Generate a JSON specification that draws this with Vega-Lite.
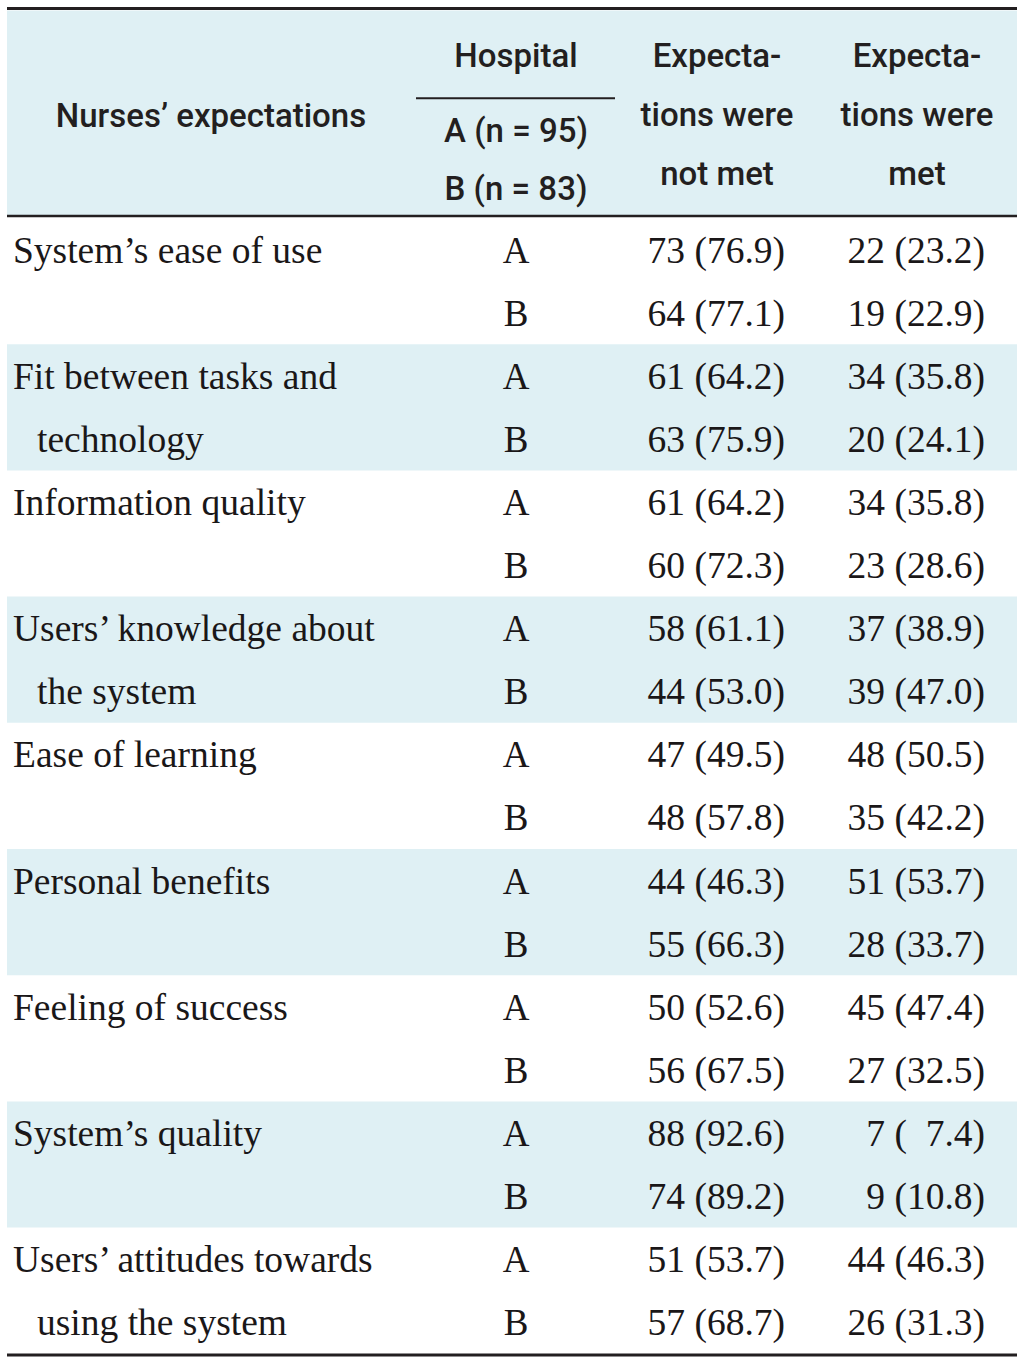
{
  "$schema": "https://vega.github.io/schema/vega-lite/v6.json",
  "width": 1022,
  "height": 1363,
  "padding": 0,
  "autosize": {"type": "fit", "contains": "padding"},
  "background": "white",
  "config": {"view": {"stroke": null}, "text": {"color": "#231f20"}},
  "data": {"values": [
    {"item": "System’s ease of use", "line": "System’s ease of use", "hospital": "A", "notMetN": 73, "notMetPct": 76.9, "metN": 22, "metPct": 23.2},
    {"item": "System’s ease of use", "line": "", "hospital": "B", "notMetN": 64, "notMetPct": 77.1, "metN": 19, "metPct": 22.9},
    {"item": "Fit between tasks and technology", "line": "Fit between tasks and", "hospital": "A", "notMetN": 61, "notMetPct": 64.2, "metN": 34, "metPct": 35.8},
    {"item": "Fit between tasks and technology", "line": "technology", "hospital": "B", "notMetN": 63, "notMetPct": 75.9, "metN": 20, "metPct": 24.1},
    {"item": "Information quality", "line": "Information quality", "hospital": "A", "notMetN": 61, "notMetPct": 64.2, "metN": 34, "metPct": 35.8},
    {"item": "Information quality", "line": "", "hospital": "B", "notMetN": 60, "notMetPct": 72.3, "metN": 23, "metPct": 28.6},
    {"item": "Users’ knowledge about the system", "line": "Users’ knowledge about", "hospital": "A", "notMetN": 58, "notMetPct": 61.1, "metN": 37, "metPct": 38.9},
    {"item": "Users’ knowledge about the system", "line": "the system", "hospital": "B", "notMetN": 44, "notMetPct": 53.0, "metN": 39, "metPct": 47.0},
    {"item": "Ease of learning", "line": "Ease of learning", "hospital": "A", "notMetN": 47, "notMetPct": 49.5, "metN": 48, "metPct": 50.5},
    {"item": "Ease of learning", "line": "", "hospital": "B", "notMetN": 48, "notMetPct": 57.8, "metN": 35, "metPct": 42.2},
    {"item": "Personal benefits", "line": "Personal benefits", "hospital": "A", "notMetN": 44, "notMetPct": 46.3, "metN": 51, "metPct": 53.7},
    {"item": "Personal benefits", "line": "", "hospital": "B", "notMetN": 55, "notMetPct": 66.3, "metN": 28, "metPct": 33.7},
    {"item": "Feeling of success", "line": "Feeling of success", "hospital": "A", "notMetN": 50, "notMetPct": 52.6, "metN": 45, "metPct": 47.4},
    {"item": "Feeling of success", "line": "", "hospital": "B", "notMetN": 56, "notMetPct": 67.5, "metN": 27, "metPct": 32.5},
    {"item": "System’s quality", "line": "System’s quality", "hospital": "A", "notMetN": 88, "notMetPct": 92.6, "metN": 7, "metPct": 7.4},
    {"item": "System’s quality", "line": "", "hospital": "B", "notMetN": 74, "notMetPct": 89.2, "metN": 9, "metPct": 10.8},
    {"item": "Users’ attitudes towards using the system", "line": "Users’ attitudes towards", "hospital": "A", "notMetN": 51, "notMetPct": 53.7, "metN": 44, "metPct": 46.3},
    {"item": "Users’ attitudes towards using the system", "line": "using the system", "hospital": "B", "notMetN": 57, "notMetPct": 68.7, "metN": 26, "metPct": 31.3}
  ]},
  "transform": [
    {"window": [{"op": "row_number", "as": "rn"}]},
    {"calculate": "datum.rn - 1", "as": "r"},
    {"calculate": "datum.r + 0.5", "as": "mid"},
    {"calculate": "datum.r + 2", "as": "rEnd"},
    {"calculate": "floor(datum.r / 2)", "as": "g"},
    {"calculate": "datum.notMetN + ' (' + (datum.notMetPct < 10 ? '\u2007' : '') + format(datum.notMetPct, '.1f') + ')'", "as": "notMetText"},
    {"calculate": "datum.metN + ' (' + (datum.metPct < 10 ? '\u2007' : '') + format(datum.metPct, '.1f') + ')'", "as": "metText"}
  ],
  "layer": [
    {
      "data": {"values": [{}]},
      "mark": {"type": "rect", "color": "#dff0f4"},
      "encoding": {
        "x": {"datum": 7, "type": "quantitative", "scale": {"domain": [0, 1022], "nice": false, "zero": false}, "axis": null},
        "x2": {"datum": 1017},
        "y": {"datum": -3.29, "type": "quantitative", "scale": {"domain": [-3.4548, 18.1458], "nice": false, "zero": false, "reverse": true}, "axis": null},
        "y2": {"datum": -0.03}
      }
    },
    {
      "transform": [{"filter": "datum.g % 2 == 1 && datum.hospital == 'A'"}],
      "mark": {"type": "rect", "color": "#dff0f4"},
      "encoding": {
        "x": {"datum": 7, "type": "quantitative", "scale": {"domain": [0, 1022], "nice": false, "zero": false}, "axis": null},
        "x2": {"datum": 1017},
        "y": {"field": "r", "type": "quantitative", "scale": {"domain": [-3.4548, 18.1458], "nice": false, "zero": false, "reverse": true}, "axis": null},
        "y2": {"field": "rEnd"}
      }
    },
    {
      "transform": [{"filter": "datum.hospital == 'A'"}],
      "mark": {"type": "text", "align": "left", "baseline": "alphabetic", "dy": 13, "font": "Liberation Serif", "fontSize": 37.5, "color": "#1a1718"},
      "encoding": {
        "x": {"datum": 13, "type": "quantitative", "scale": {"domain": [0, 1022], "nice": false, "zero": false}, "axis": null},
        "y": {"field": "mid", "type": "quantitative", "scale": {"domain": [-3.4548, 18.1458], "nice": false, "zero": false, "reverse": true}, "axis": null},
        "text": {"field": "line"}
      }
    },
    {
      "transform": [{"filter": "datum.hospital == 'B'"}],
      "mark": {"type": "text", "align": "left", "baseline": "alphabetic", "dy": 13, "dx": 24, "font": "Liberation Serif", "fontSize": 37.5, "color": "#1a1718"},
      "encoding": {
        "x": {"datum": 13, "type": "quantitative", "scale": {"domain": [0, 1022], "nice": false, "zero": false}, "axis": null},
        "y": {"field": "mid", "type": "quantitative", "scale": {"domain": [-3.4548, 18.1458], "nice": false, "zero": false, "reverse": true}, "axis": null},
        "text": {"field": "line"}
      }
    },
    {
      "mark": {"type": "text", "align": "center", "baseline": "alphabetic", "dy": 13, "font": "Liberation Serif", "fontSize": 37, "color": "#1a1718"},
      "encoding": {
        "x": {"datum": 516, "type": "quantitative", "scale": {"domain": [0, 1022], "nice": false, "zero": false}, "axis": null},
        "y": {"field": "mid", "type": "quantitative", "scale": {"domain": [-3.4548, 18.1458], "nice": false, "zero": false, "reverse": true}, "axis": null},
        "text": {"field": "hospital"}
      }
    },
    {
      "mark": {"type": "text", "align": "right", "baseline": "alphabetic", "dy": 13, "font": "Liberation Serif", "fontSize": 37.5, "color": "#1a1718"},
      "encoding": {
        "x": {"datum": 785, "type": "quantitative", "scale": {"domain": [0, 1022], "nice": false, "zero": false}, "axis": null},
        "y": {"field": "mid", "type": "quantitative", "scale": {"domain": [-3.4548, 18.1458], "nice": false, "zero": false, "reverse": true}, "axis": null},
        "text": {"field": "notMetText"}
      }
    },
    {
      "mark": {"type": "text", "align": "right", "baseline": "alphabetic", "dy": 13, "font": "Liberation Serif", "fontSize": 37.5, "color": "#1a1718"},
      "encoding": {
        "x": {"datum": 985, "type": "quantitative", "scale": {"domain": [0, 1022], "nice": false, "zero": false}, "axis": null},
        "y": {"field": "mid", "type": "quantitative", "scale": {"domain": [-3.4548, 18.1458], "nice": false, "zero": false, "reverse": true}, "axis": null},
        "text": {"field": "metText"}
      }
    },
    {
      "data": {"values": [{}]},
      "mark": {"type": "text", "align": "center", "baseline": "alphabetic", "font": "Roboto", "fontWeight": 500, "fontSize": 33, "text": "Nurses’ expectations"},
      "encoding": {
        "x": {"datum": 211, "type": "quantitative", "scale": {"domain": [0, 1022], "nice": false, "zero": false}, "axis": null},
        "y": {"datum": -1.442, "type": "quantitative", "scale": {"domain": [-3.4548, 18.1458], "nice": false, "zero": false, "reverse": true}, "axis": null}
      }
    },
    {
      "data": {"values": [{}]},
      "mark": {"type": "text", "align": "center", "baseline": "alphabetic", "font": "Roboto", "fontWeight": 500, "fontSize": 33, "text": "Hospital"},
      "encoding": {
        "x": {"datum": 516, "type": "quantitative", "scale": {"domain": [0, 1022], "nice": false, "zero": false}, "axis": null},
        "y": {"datum": -2.393, "type": "quantitative", "scale": {"domain": [-3.4548, 18.1458], "nice": false, "zero": false, "reverse": true}, "axis": null}
      }
    },
    {
      "data": {"values": [{}]},
      "mark": {"type": "text", "align": "center", "baseline": "alphabetic", "font": "Roboto", "fontWeight": 500, "fontSize": 33, "lineHeight": 58, "text": ["A (n = 95)", "B (n = 83)"]},
      "encoding": {
        "x": {"datum": 516, "type": "quantitative", "scale": {"domain": [0, 1022], "nice": false, "zero": false}, "axis": null},
        "y": {"datum": -1.204, "type": "quantitative", "scale": {"domain": [-3.4548, 18.1458], "nice": false, "zero": false, "reverse": true}, "axis": null}
      }
    },
    {
      "data": {"values": [{}]},
      "mark": {"type": "text", "align": "center", "baseline": "alphabetic", "font": "Roboto", "fontWeight": 500, "fontSize": 33, "lineHeight": 59, "text": ["Expecta-", "tions were", "not met"]},
      "encoding": {
        "x": {"datum": 717, "type": "quantitative", "scale": {"domain": [0, 1022], "nice": false, "zero": false}, "axis": null},
        "y": {"datum": -2.393, "type": "quantitative", "scale": {"domain": [-3.4548, 18.1458], "nice": false, "zero": false, "reverse": true}, "axis": null}
      }
    },
    {
      "data": {"values": [{}]},
      "mark": {"type": "text", "align": "center", "baseline": "alphabetic", "font": "Roboto", "fontWeight": 500, "fontSize": 33, "lineHeight": 59, "text": ["Expecta-", "tions were", "met"]},
      "encoding": {
        "x": {"datum": 917, "type": "quantitative", "scale": {"domain": [0, 1022], "nice": false, "zero": false}, "axis": null},
        "y": {"datum": -2.393, "type": "quantitative", "scale": {"domain": [-3.4548, 18.1458], "nice": false, "zero": false, "reverse": true}, "axis": null}
      }
    },
    {
      "data": {"values": [{"pos": -3.32, "w": 3}, {"pos": -0.032, "w": 2.5}, {"pos": 18.02, "w": 3}]},
      "mark": {"type": "rule", "color": "#231f20"},
      "encoding": {
        "x": {"datum": 7, "type": "quantitative", "scale": {"domain": [0, 1022], "nice": false, "zero": false}, "axis": null},
        "x2": {"datum": 1017},
        "y": {"field": "pos", "type": "quantitative", "scale": {"domain": [-3.4548, 18.1458], "nice": false, "zero": false, "reverse": true}, "axis": null},
        "strokeWidth": {"field": "w", "type": "quantitative", "scale": null, "legend": null}
      }
    },
    {
      "data": {"values": [{}]},
      "mark": {"type": "rule", "color": "#231f20", "strokeWidth": 2},
      "encoding": {
        "x": {"datum": 416, "type": "quantitative", "scale": {"domain": [0, 1022], "nice": false, "zero": false}, "axis": null},
        "x2": {"datum": 615},
        "y": {"datum": -1.897, "type": "quantitative", "scale": {"domain": [-3.4548, 18.1458], "nice": false, "zero": false, "reverse": true}, "axis": null}
      }
    }
  ]
}
